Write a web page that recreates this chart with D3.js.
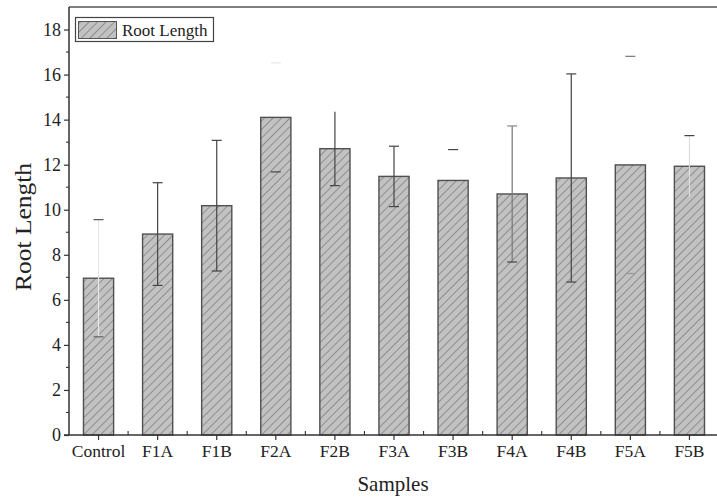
<!DOCTYPE html>
<html>
<head>
<meta charset="utf-8">
<script src="https://cdn.jsdelivr.net/npm/d3@7"></script>
<style>
  html, body { margin: 0; padding: 0; background: #fff; }
  svg { display: block; }
  text { font-family: "Liberation Serif", "Times New Roman", serif; fill: #222; }
</style>
</head>
<body>
<svg id="chart" width="717" height="499"></svg>
<script>
// ---- data ----
const categories = ["Control", "F1A", "F1B", "F2A", "F2B", "F3A", "F3B", "F4A", "F4B", "F5A", "F5B"];
const rootLength = [6.96, 8.92, 10.18, 14.1, 12.71, 11.48, 11.3, 10.7, 11.41, 11.99, 11.93];
const rootLengthErr = [2.6, 2.28, 2.9, 2.42, 1.64, 1.34, 1.37, 3.02, 4.62, 4.82, 1.36];
const yTicks = [0, 2, 4, 6, 8, 10, 12, 14, 16, 18];
const seriesName = "Root Length";
const xTitle = "Samples";
const yTitle = "Root Length";
// per-bar error-bar appearance (stem / upper cap / lower cap colours)
const errStemColor = ["#e6e6e6", "#444", "#444", "none", "#444", "#444", "none", "#777", "#444", "none", "#ddd"];
const errUpCapColor = ["#555", "#444", "#444", "#e8e8e8", "none", "#444", "#444", "#888", "#444", "#777", "#444"];
const errLoCapColor = ["#666", "#444", "#444", "#444", "#444", "#444", "none", "#444", "#444", "#999", "none"];

// ---- layout ----
const svg = d3.select("#chart");
const mLeft = 69, mTop = 7, mBottom = 435, mRight = 719;

const x = d3.scaleBand().domain(categories).range([mLeft, mRight]).paddingInner(0.49).paddingOuter(0.245);
const y = d3.scaleLinear().domain([0, 19]).range([mBottom, mTop]);

// hatch pattern
const defs = svg.append("defs");
const pat = defs.append("pattern")
  .attr("id", "hatch").attr("patternUnits", "userSpaceOnUse")
  .attr("width", 6).attr("height", 6)
  .attr("patternTransform", "rotate(45)");
pat.append("rect").attr("width", 6).attr("height", 6).attr("fill", "#c2c2c2");
pat.append("line").attr("x1", 0).attr("y1", 0).attr("x2", 0).attr("y2", 6)
  .attr("stroke", "#5a5a5a").attr("stroke-width", 1.0);

// bars
svg.append("g").selectAll("rect").data(categories).join("rect")
  .attr("x", d => x(d))
  .attr("y", (d, i) => y(rootLength[i]))
  .attr("width", x.bandwidth())
  .attr("height", (d, i) => y(0) - y(rootLength[i]))
  .attr("fill", "url(#hatch)")
  .attr("stroke", "#505050").attr("stroke-width", 1.4);

// error bars
const eg = svg.append("g");
const capW = 5;
categories.forEach((c, i) => {
  const cx = x(c) + x.bandwidth() / 2;
  const hi = y(rootLength[i] + rootLengthErr[i]);
  const lo = y(rootLength[i] - rootLengthErr[i]);
  if (errStemColor[i] !== "none")
    eg.append("line").attr("x1", cx).attr("x2", cx).attr("y1", hi).attr("y2", lo)
      .attr("stroke", errStemColor[i]).attr("stroke-width", 1.2);
  if (errUpCapColor[i] !== "none")
    eg.append("line").attr("x1", cx - capW).attr("x2", cx + capW).attr("y1", hi).attr("y2", hi)
      .attr("stroke", errUpCapColor[i]).attr("stroke-width", 1.2);
  if (errLoCapColor[i] !== "none")
    eg.append("line").attr("x1", cx - capW).attr("x2", cx + capW).attr("y1", lo).attr("y2", lo)
      .attr("stroke", errLoCapColor[i]).attr("stroke-width", 1.2);
});

// top frame line
svg.append("line").attr("x1", mLeft).attr("x2", mRight).attr("y1", mTop).attr("y2", mTop)
  .attr("stroke", "#555").attr("stroke-width", 1.6);

// y axis
const yAxis = d3.axisLeft(y).tickValues(yTicks).tickSize(5).tickPadding(3).tickFormat(d3.format("d"));
const yg = svg.append("g").attr("transform", `translate(${mLeft},0)`).call(yAxis);
yg.select(".domain").attr("d", `M0,${mBottom}V${mTop}`).attr("stroke", "#333").attr("stroke-width", 1.5);
yg.selectAll(".tick line").attr("stroke", "#333").attr("stroke-width", 1.2);
yg.selectAll(".tick text").attr("font-size", 18).attr("font-family", "Liberation Serif").attr("fill", "#222");
// minor y ticks
const minorY = d3.range(1, 19, 2);
svg.append("g").selectAll("line").data(minorY).join("line")
  .attr("x1", mLeft - 3).attr("x2", mLeft).attr("y1", d => y(d)).attr("y2", d => y(d))
  .attr("stroke", "#333").attr("stroke-width", 1.1);

// x axis
const xAxis = d3.axisBottom(x).tickSize(5).tickPadding(5);
const xg = svg.append("g").attr("transform", `translate(0,${mBottom})`).call(xAxis);
xg.select(".domain").attr("d", `M${mLeft - 5},0H${mRight}`).attr("stroke", "#333").attr("stroke-width", 1.5);
xg.selectAll(".tick line").attr("stroke", "#333").attr("stroke-width", 1.2);
xg.selectAll(".tick text").attr("font-size", 17.5).attr("font-family", "Liberation Serif").attr("fill", "#222");
// minor x ticks between categories (pointing up)
const step = x.step();
svg.append("g").selectAll("line").data(categories.slice(1)).join("line")
  .attr("x1", d => x(d) + x.bandwidth() / 2 - step / 2)
  .attr("x2", d => x(d) + x.bandwidth() / 2 - step / 2)
  .attr("y1", mBottom).attr("y2", mBottom - 4)
  .attr("stroke", "#333").attr("stroke-width", 1.1);

// axis titles
svg.append("text").attr("x", 393).attr("y", 491)
  .attr("text-anchor", "middle").attr("font-size", 21).text(xTitle);
svg.append("text").attr("transform", `translate(31,${(mTop + mBottom) / 2 + 6}) rotate(-90)`)
  .attr("text-anchor", "middle").attr("font-size", 24)
  .attr("textLength", 128).attr("lengthAdjust", "spacingAndGlyphs").text(yTitle);

// legend
const lg = svg.append("g");
lg.append("rect").attr("x", 75.5).attr("y", 17.5).attr("width", 138).attr("height", 24)
  .attr("fill", "#fff").attr("stroke", "#444").attr("stroke-width", 1.2);
lg.append("rect").attr("x", 78.5).attr("y", 21.5).attr("width", 38).attr("height", 17)
  .attr("fill", "url(#hatch)").attr("stroke", "#555").attr("stroke-width", 1);
lg.append("text").attr("x", 122).attr("y", 35.5).attr("font-size", 17).text(seriesName);
</script>
</body>
</html>
